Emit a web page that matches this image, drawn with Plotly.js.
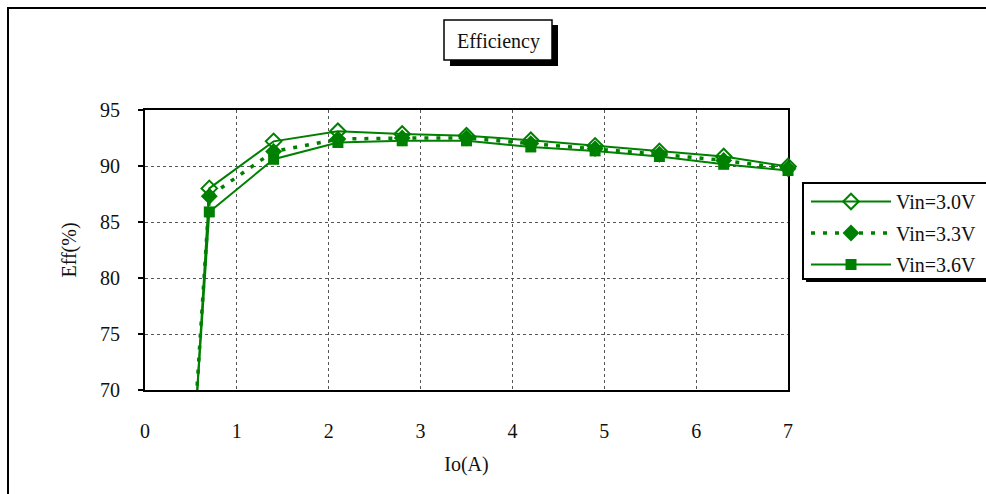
<!DOCTYPE html>
<html>
<head>
<meta charset="utf-8">
<script src="https://cdn.plot.ly/plotly-3.0.1.min.js"></script>
<style>
html,body{margin:0;padding:0;background:#fff;}
#chart{width:986px;height:494px;}
</style>
</head>
<body>
<div id="chart"></div>
<script>
// Output current Io (A)
var ioA = [0.35, 0.7, 1.4, 2.1, 2.8, 3.5, 4.2, 4.9, 5.6, 6.3, 7.0];
// Efficiency (%) per input voltage
var eff30 = [40.0, 88.0, 92.2, 93.1, 92.85, 92.7, 92.3, 91.8, 91.3, 90.85, 89.95];
var eff33 = [42.6, 87.3, 91.3, 92.4, 92.5, 92.5, 92.0, 91.55, 91.05, 90.5, 89.75];
var eff36 = [43.3, 85.9, 90.6, 92.1, 92.25, 92.25, 91.7, 91.35, 90.85, 90.15, 89.6];
var seriesNames = ['Vin=3.0V', 'Vin=3.3V', 'Vin=3.6V'];
var xTicks = [0, 1, 2, 3, 4, 5, 6, 7];
var yTicks = [70, 75, 80, 85, 90, 95];

var GREEN = '#008000';
var FONT = '"Liberation Serif", "DejaVu Serif", serif';

// plot area in pixels
var L = 145, R = 788, T = 110, B = 390, W = 986, H = 494;
function px(x) { return (x - L) / (R - L); }
function py(y) { return (B - y) / (B - T); }

var traces = [
  {x: ioA, y: eff30, name: seriesNames[0], mode: 'lines+markers', legendgroup: 'a',
   line: {color: GREEN, width: 2},
   marker: {symbol: 'diamond-open', size: 12, color: GREEN, line: {width: 2, color: GREEN}},
   cliponaxis: false},
  {x: ioA, y: eff33, name: seriesNames[1], mode: 'lines+markers', legendgroup: 'b',
   line: {color: GREEN, width: 3.5, dash: '4px,8px'},
   marker: {symbol: 'diamond', size: 13, color: GREEN},
   cliponaxis: false},
  {x: ioA, y: eff36, name: seriesNames[2], mode: 'lines+markers', legendgroup: 'c',
   line: {color: GREEN, width: 2},
   marker: {symbol: 'square', size: 11, color: GREEN},
   cliponaxis: false}
];

var layout = {
  width: W, height: H,
  margin: {l: L, r: W - R, t: T, b: H - B, autoexpand: false},
  paper_bgcolor: '#fff',
  plot_bgcolor: '#fff',
  font: {family: FONT, color: '#111', size: 19},
  showlegend: true,
  legend: {
    x: px(806), xanchor: 'left', y: py(182), yanchor: 'top',
    bgcolor: 'rgba(0,0,0,0)', borderwidth: 0,
    font: {family: FONT, size: 20, color: '#111'},
    itemwidth: 80, tracegroupgap: 2.5, traceorder: 'grouped'
  },
  xaxis: {
    range: [0, 7], tickvals: xTicks, ticktext: xTicks.map(String),
    showgrid: true, gridcolor: '#555', griddash: 'dot', gridwidth: 1,
    showline: true, linecolor: '#000', linewidth: 2, mirror: true,
    ticks: '', zeroline: false, layer: 'below traces',
    ticklabelstandoff: 22,
    tickfont: {family: FONT, size: 20, color: '#111'},
    title: {text: 'Io(A)', font: {family: FONT, size: 20, color: '#111'}, standoff: 16}
  },
  yaxis: {
    range: [70, 95], tickvals: yTicks, ticktext: yTicks.map(String),
    showgrid: true, gridcolor: '#555', griddash: 'dot', gridwidth: 1,
    showline: true, linecolor: '#000', linewidth: 2, mirror: true,
    ticks: 'outside', ticklen: 5, tickwidth: 2, tickcolor: '#000',
    zeroline: false, layer: 'below traces',
    ticklabelstandoff: 14,
    tickfont: {family: FONT, size: 20, color: '#111'},
    title: {text: 'Eff(%)', font: {family: FONT, size: 20, color: '#111'}, standoff: 18}
  },
  shapes: [
    // outer chart border
    {type: 'rect', xref: 'paper', yref: 'paper', x0: px(8), x1: px(1010), y0: py(520), y1: py(8),
     line: {color: '#000', width: 2}, fillcolor: 'rgba(0,0,0,0)', layer: 'below'},
    // title shadow + box
    {type: 'rect', xref: 'paper', yref: 'paper', x0: px(450), x1: px(558), y0: py(66), y1: py(25),
     line: {width: 0}, fillcolor: '#000', layer: 'above'},
    {type: 'rect', xref: 'paper', yref: 'paper', x0: px(444), x1: px(552), y0: py(60), y1: py(20),
     line: {color: '#000', width: 1.5}, fillcolor: '#fff', layer: 'above'},
    // legend shadow + box
    {type: 'rect', xref: 'paper', yref: 'paper', x0: px(806), x1: px(1010), y0: py(282), y1: py(186),
     line: {width: 0}, fillcolor: '#000', layer: 'above'},
    {type: 'rect', xref: 'paper', yref: 'paper', x0: px(803), x1: px(1010), y0: py(279), y1: py(183),
     line: {color: '#000', width: 2}, fillcolor: '#fff', layer: 'above'}
  ],
  annotations: [
    {text: 'Efficiency', xref: 'paper', yref: 'paper', x: px(498), y: py(41),
     xanchor: 'center', yanchor: 'middle', showarrow: false,
     font: {family: FONT, size: 20, color: '#111'}}
  ]
};

Plotly.newPlot('chart', traces, layout, {displayModeBar: false, staticPlot: true});
</script>
</body>
</html>
